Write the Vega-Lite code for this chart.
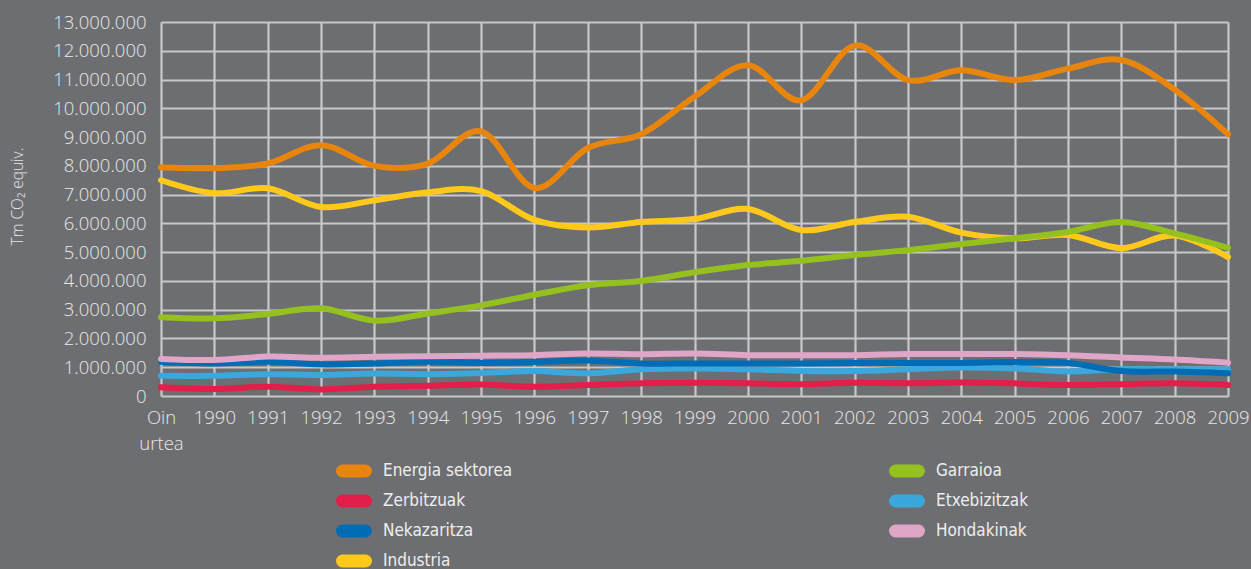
{
  "$schema": "https://vega.github.io/schema/vega-lite/v6.json",
  "width": 1067,
  "height": 374,
  "autosize": {"type": "none"},
  "padding": {"left": 161, "top": 22, "right": 23, "bottom": 173},
  "background": "#6d6e71",
  "config": {
    "view": {"stroke": null},
    "locale": {"number": {"decimal": ",", "thousands": ".", "grouping": [3], "currency": ["", " €"]}},
    "axis": {
      "gridColor": "#c8c8ca",
      "gridWidth": 2.2,
      "gridOpacity": 1,
      "domain": false,
      "ticks": false,
      "labelColor": "#e8e8e8",
      "labelFont": "Open Sans",
      "labelFontWeight": 300,
      "labelFontSize": 18.5,
      "titleColor": "#e8e8e8",
      "titleFont": "Open Sans",
      "titleFontWeight": 300
    },
    "legend": {
      "labelColor": "#eeeeee",
      "labelFont": "DejaVu Sans Condensed",
      "labelFontSize": 17,
      "labelFontWeight": 300
    }
  },
  "data": {
    "values": [
      {"sector": "Energia sektorea", "year": "Oin urtea", "value": 7950000},
      {"sector": "Energia sektorea", "year": "1990", "value": 7920000},
      {"sector": "Energia sektorea", "year": "1991", "value": 8080000},
      {"sector": "Energia sektorea", "year": "1992", "value": 8720000},
      {"sector": "Energia sektorea", "year": "1993", "value": 8000000},
      {"sector": "Energia sektorea", "year": "1994", "value": 8080000},
      {"sector": "Energia sektorea", "year": "1995", "value": 9200000},
      {"sector": "Energia sektorea", "year": "1996", "value": 7230000},
      {"sector": "Energia sektorea", "year": "1997", "value": 8620000},
      {"sector": "Energia sektorea", "year": "1998", "value": 9100000},
      {"sector": "Energia sektorea", "year": "1999", "value": 10400000},
      {"sector": "Energia sektorea", "year": "2000", "value": 11500000},
      {"sector": "Energia sektorea", "year": "2001", "value": 10280000},
      {"sector": "Energia sektorea", "year": "2002", "value": 12180000},
      {"sector": "Energia sektorea", "year": "2003", "value": 10980000},
      {"sector": "Energia sektorea", "year": "2004", "value": 11320000},
      {"sector": "Energia sektorea", "year": "2005", "value": 10980000},
      {"sector": "Energia sektorea", "year": "2006", "value": 11380000},
      {"sector": "Energia sektorea", "year": "2007", "value": 11680000},
      {"sector": "Energia sektorea", "year": "2008", "value": 10650000},
      {"sector": "Energia sektorea", "year": "2009", "value": 9100000},
      {"sector": "Zerbitzuak", "year": "Oin urtea", "value": 300000},
      {"sector": "Zerbitzuak", "year": "1990", "value": 240000},
      {"sector": "Zerbitzuak", "year": "1991", "value": 320000},
      {"sector": "Zerbitzuak", "year": "1992", "value": 230000},
      {"sector": "Zerbitzuak", "year": "1993", "value": 320000},
      {"sector": "Zerbitzuak", "year": "1994", "value": 360000},
      {"sector": "Zerbitzuak", "year": "1995", "value": 400000},
      {"sector": "Zerbitzuak", "year": "1996", "value": 320000},
      {"sector": "Zerbitzuak", "year": "1997", "value": 380000},
      {"sector": "Zerbitzuak", "year": "1998", "value": 440000},
      {"sector": "Zerbitzuak", "year": "1999", "value": 460000},
      {"sector": "Zerbitzuak", "year": "2000", "value": 440000},
      {"sector": "Zerbitzuak", "year": "2001", "value": 410000},
      {"sector": "Zerbitzuak", "year": "2002", "value": 460000},
      {"sector": "Zerbitzuak", "year": "2003", "value": 440000},
      {"sector": "Zerbitzuak", "year": "2004", "value": 470000},
      {"sector": "Zerbitzuak", "year": "2005", "value": 440000},
      {"sector": "Zerbitzuak", "year": "2006", "value": 380000},
      {"sector": "Zerbitzuak", "year": "2007", "value": 410000},
      {"sector": "Zerbitzuak", "year": "2008", "value": 440000},
      {"sector": "Zerbitzuak", "year": "2009", "value": 380000},
      {"sector": "Etxebizitzak", "year": "Oin urtea", "value": 700000},
      {"sector": "Etxebizitzak", "year": "1990", "value": 700000},
      {"sector": "Etxebizitzak", "year": "1991", "value": 760000},
      {"sector": "Etxebizitzak", "year": "1992", "value": 730000},
      {"sector": "Etxebizitzak", "year": "1993", "value": 780000},
      {"sector": "Etxebizitzak", "year": "1994", "value": 760000},
      {"sector": "Etxebizitzak", "year": "1995", "value": 800000},
      {"sector": "Etxebizitzak", "year": "1996", "value": 870000},
      {"sector": "Etxebizitzak", "year": "1997", "value": 790000},
      {"sector": "Etxebizitzak", "year": "1998", "value": 930000},
      {"sector": "Etxebizitzak", "year": "1999", "value": 960000},
      {"sector": "Etxebizitzak", "year": "2000", "value": 930000},
      {"sector": "Etxebizitzak", "year": "2001", "value": 870000},
      {"sector": "Etxebizitzak", "year": "2002", "value": 870000},
      {"sector": "Etxebizitzak", "year": "2003", "value": 930000},
      {"sector": "Etxebizitzak", "year": "2004", "value": 990000},
      {"sector": "Etxebizitzak", "year": "2005", "value": 960000},
      {"sector": "Etxebizitzak", "year": "2006", "value": 850000},
      {"sector": "Etxebizitzak", "year": "2007", "value": 930000},
      {"sector": "Etxebizitzak", "year": "2008", "value": 930000},
      {"sector": "Etxebizitzak", "year": "2009", "value": 930000},
      {"sector": "Nekazaritza", "year": "Oin urtea", "value": 1190000},
      {"sector": "Nekazaritza", "year": "1990", "value": 1130000},
      {"sector": "Nekazaritza", "year": "1991", "value": 1190000},
      {"sector": "Nekazaritza", "year": "1992", "value": 1100000},
      {"sector": "Nekazaritza", "year": "1993", "value": 1130000},
      {"sector": "Nekazaritza", "year": "1994", "value": 1190000},
      {"sector": "Nekazaritza", "year": "1995", "value": 1150000},
      {"sector": "Nekazaritza", "year": "1996", "value": 1180000},
      {"sector": "Nekazaritza", "year": "1997", "value": 1230000},
      {"sector": "Nekazaritza", "year": "1998", "value": 1130000},
      {"sector": "Nekazaritza", "year": "1999", "value": 1130000},
      {"sector": "Nekazaritza", "year": "2000", "value": 1130000},
      {"sector": "Nekazaritza", "year": "2001", "value": 1130000},
      {"sector": "Nekazaritza", "year": "2002", "value": 1150000},
      {"sector": "Nekazaritza", "year": "2003", "value": 1150000},
      {"sector": "Nekazaritza", "year": "2004", "value": 1150000},
      {"sector": "Nekazaritza", "year": "2005", "value": 1180000},
      {"sector": "Nekazaritza", "year": "2006", "value": 1150000},
      {"sector": "Nekazaritza", "year": "2007", "value": 870000},
      {"sector": "Nekazaritza", "year": "2008", "value": 850000},
      {"sector": "Nekazaritza", "year": "2009", "value": 790000},
      {"sector": "Industria", "year": "Oin urtea", "value": 7500000},
      {"sector": "Industria", "year": "1990", "value": 7050000},
      {"sector": "Industria", "year": "1991", "value": 7220000},
      {"sector": "Industria", "year": "1992", "value": 6570000},
      {"sector": "Industria", "year": "1993", "value": 6800000},
      {"sector": "Industria", "year": "1994", "value": 7080000},
      {"sector": "Industria", "year": "1995", "value": 7120000},
      {"sector": "Industria", "year": "1996", "value": 6120000},
      {"sector": "Industria", "year": "1997", "value": 5860000},
      {"sector": "Industria", "year": "1998", "value": 6050000},
      {"sector": "Industria", "year": "1999", "value": 6150000},
      {"sector": "Industria", "year": "2000", "value": 6500000},
      {"sector": "Industria", "year": "2001", "value": 5770000},
      {"sector": "Industria", "year": "2002", "value": 6050000},
      {"sector": "Industria", "year": "2003", "value": 6230000},
      {"sector": "Industria", "year": "2004", "value": 5680000},
      {"sector": "Industria", "year": "2005", "value": 5480000},
      {"sector": "Industria", "year": "2006", "value": 5600000},
      {"sector": "Industria", "year": "2007", "value": 5140000},
      {"sector": "Industria", "year": "2008", "value": 5580000},
      {"sector": "Industria", "year": "2009", "value": 4830000},
      {"sector": "Garraioa", "year": "Oin urtea", "value": 2740000},
      {"sector": "Garraioa", "year": "1990", "value": 2700000},
      {"sector": "Garraioa", "year": "1991", "value": 2850000},
      {"sector": "Garraioa", "year": "1992", "value": 3050000},
      {"sector": "Garraioa", "year": "1993", "value": 2620000},
      {"sector": "Garraioa", "year": "1994", "value": 2870000},
      {"sector": "Garraioa", "year": "1995", "value": 3150000},
      {"sector": "Garraioa", "year": "1996", "value": 3520000},
      {"sector": "Garraioa", "year": "1997", "value": 3850000},
      {"sector": "Garraioa", "year": "1998", "value": 4000000},
      {"sector": "Garraioa", "year": "1999", "value": 4300000},
      {"sector": "Garraioa", "year": "2000", "value": 4550000},
      {"sector": "Garraioa", "year": "2001", "value": 4700000},
      {"sector": "Garraioa", "year": "2002", "value": 4900000},
      {"sector": "Garraioa", "year": "2003", "value": 5070000},
      {"sector": "Garraioa", "year": "2004", "value": 5280000},
      {"sector": "Garraioa", "year": "2005", "value": 5480000},
      {"sector": "Garraioa", "year": "2006", "value": 5700000},
      {"sector": "Garraioa", "year": "2007", "value": 6050000},
      {"sector": "Garraioa", "year": "2008", "value": 5650000},
      {"sector": "Garraioa", "year": "2009", "value": 5150000},
      {"sector": "Hondakinak", "year": "Oin urtea", "value": 1290000},
      {"sector": "Hondakinak", "year": "1990", "value": 1250000},
      {"sector": "Hondakinak", "year": "1991", "value": 1370000},
      {"sector": "Hondakinak", "year": "1992", "value": 1330000},
      {"sector": "Hondakinak", "year": "1993", "value": 1360000},
      {"sector": "Hondakinak", "year": "1994", "value": 1380000},
      {"sector": "Hondakinak", "year": "1995", "value": 1400000},
      {"sector": "Hondakinak", "year": "1996", "value": 1420000},
      {"sector": "Hondakinak", "year": "1997", "value": 1480000},
      {"sector": "Hondakinak", "year": "1998", "value": 1450000},
      {"sector": "Hondakinak", "year": "1999", "value": 1480000},
      {"sector": "Hondakinak", "year": "2000", "value": 1420000},
      {"sector": "Hondakinak", "year": "2001", "value": 1420000},
      {"sector": "Hondakinak", "year": "2002", "value": 1420000},
      {"sector": "Hondakinak", "year": "2003", "value": 1460000},
      {"sector": "Hondakinak", "year": "2004", "value": 1460000},
      {"sector": "Hondakinak", "year": "2005", "value": 1460000},
      {"sector": "Hondakinak", "year": "2006", "value": 1420000},
      {"sector": "Hondakinak", "year": "2007", "value": 1340000},
      {"sector": "Hondakinak", "year": "2008", "value": 1270000},
      {"sector": "Hondakinak", "year": "2009", "value": 1160000}
    ]
  },
  "mark": {"type": "line", "interpolate": "cardinal", "strokeWidth": 6, "strokeCap": "round", "strokeJoin": "round"},
  "encoding": {
    "x": {
      "field": "year",
      "type": "ordinal",
      "sort": null,
      "scale": {"type": "point", "padding": 0},
      "axis": {
        "title": null,
        "grid": true,
        "labelAngle": 0,
        "labelPadding": 12,
        "labelLineHeight": 26,
        "labelExpr": "datum.label == 'Oin urtea' ? ['Oin', 'urtea'] : datum.label"
      }
    },
    "y": {
      "field": "value",
      "type": "quantitative",
      "scale": {"domain": [0, 13000000], "nice": false},
      "axis": {
        "title": "Tm CO₂ equiv.",
        "titleFontSize": 15.5,
        "titleX": -136,
        "titleY": 174,
        "titleAngle": 270,
        "titleAlign": "center",
        "titleBaseline": "bottom",
        "tickCount": 13,
        "format": ",d",
        "labelPadding": 15,
        "grid": true
      }
    },
    "color": {
      "field": "sector",
      "type": "nominal",
      "scale": {
        "domain": ["Energia sektorea", "Zerbitzuak", "Nekazaritza", "Industria", "Garraioa", "Etxebizitzak", "Hondakinak"],
        "range": ["#e8850c", "#e31e4a", "#006cb5", "#fec91b", "#95c11f", "#3aa8dc", "#e0a6c8"]
      },
      "legend": {
        "title": null,
        "orient": "none",
        "legendX": 175,
        "legendY": 437,
        "columns": 2,
        "columnPadding": 376,
        "rowPadding": 6,
        "padding": 0,
        "clipHeight": 24,
        "symbolType": "M -0.958 -0.0417 L 0.958 -0.0417 A 0.0417 0.0417 0 0 1 0.958 0.0417 L -0.958 0.0417 A 0.0417 0.0417 0 0 1 -0.958 -0.0417 Z",
        "symbolSize": 576,
        "symbolStrokeWidth": 12,
        "labelOffset": 11
      }
    }
  }
}
